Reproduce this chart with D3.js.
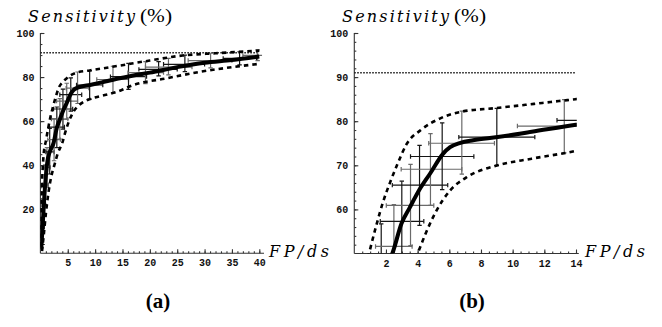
<!DOCTYPE html>
<html lang="en">
<head>
<meta charset="UTF-8">
<title>Sensitivity vs FP/ds</title>
<script src="https://d3js.org/d3.v7.min.js"></script>
<style>
  body { margin: 0; background: #fff; }
  .tick text { font-family: "Liberation Mono", "DejaVu Sans Mono", monospace; font-weight: bold; font-size: 10px; fill: #111; }
  .axis line, .axisline { stroke: #333; stroke-width: 1.1; }
  .main { fill: none; stroke: #000; stroke-width: 4; stroke-linejoin: round; }
  .band { fill: none; stroke: #000; stroke-width: 2.6; stroke-dasharray: 4.5 4; }
  .ref { stroke: #000; stroke-width: 1.5; stroke-dasharray: 1.4 1.6; }
  .bar { stroke-width: 1.2; }
  .math { font-family: "DejaVu Serif", serif; font-style: italic; font-size: 16px; }
  .paren { font-family: "Liberation Serif", serif; font-size: 19px; }
  .tag { font-family: "Liberation Serif", serif; font-weight: bold; font-size: 21px; }
</style>
</head>
<body>
<script>
    const width = 662;
    const height = 327;

    // mean curve, FP/ds vs sensitivity
    const mainCurve = [
        [0.15, 2], [0.4, 12], [0.7, 25], [1.0, 35], [1.3, 42], [1.7, 46],
        [2.4, 50], [2.98, 56.8], [3.5, 60.4], [4.1, 64.4], [4.8, 68.2],
        [5.6, 72.6], [6.05, 74.1], [6.7, 75.1], [7.5, 75.7], [9.06, 76.4],
        [11.2, 77.6], [14, 79.2], [17, 80.7], [20, 82], [25, 84.5],
        [30, 86.5], [35, 87.7], [40, 89.3]
    ];

    // dashed envelope
    const upperBand = [
        [0.02, 3], [0.15, 20], [0.35, 35], [0.6, 45], [1.0, 51], [1.4, 56.5],
        [1.8, 61.5], [2.3, 66.5], [2.75, 70.5], [3.3, 74.8], [4.2, 78],
        [5.4, 80.6], [6.7, 82.1], [9, 83], [14, 85], [20, 87.5], [26, 89.8],
        [32, 90.8], [40, 92]
    ];
    const lowerBand = [
        [0.3, 1], [0.6, 8], [1.0, 18], [1.5, 28], [2.0, 35], [2.55, 40],
        [3.2, 45.5], [4.05, 50.5], [4.5, 54.5], [5.2, 59.8], [6.05, 64.3],
        [7.1, 67.3], [9.06, 70], [11.2, 71.5], [14, 73.3], [17, 76.4],
        [23, 79.4], [29, 82.3], [35, 84.5], [40, 86]
    ];

    // error crosses: x, y, xLo, xHi, yLo, yHi
    const crosses = [
        [0.4, 12, 0.1, 0.7, 4, 20],
        [0.6, 22, 0.25, 1.0, 13, 31],
        [0.9, 31, 0.45, 1.4, 22, 40],
        [1.2, 39, 0.7, 1.8, 30, 48],
        [1.7, 46, 1.0, 2.5, 36, 56.7],
        [2.5, 51.6, 1.34, 3.65, 42, 61.1],
        [3.0, 57.3, 1.64, 4.39, 48, 66.4],
        [3.55, 60.9, 2.02, 5.02, 51.8, 70.2],
        [4.12, 65.5, 2.4, 5.9, 56.4, 74.5],
        [4.81, 69.1, 2.96, 6.79, 60.9, 77.2],
        [5.55, 72.0, 3.55, 7.55, 64.5, 79.6],
        [6.79, 75.0, 4.7, 8.85, 68.0, 82.3],
        [9.0, 76.4, 6.6, 11.4, 70.0, 82.9],
        [13.26, 78.9, 10.3, 16.1, 72.8, 84.9],
        [16.1, 80.2, 12.8, 19.4, 74.4, 86.2],
        [19.2, 82, 16, 22.5, 77, 87],
        [21.6, 83.5, 18, 25, 80.5, 87],
        [23.4, 84.5, 19.2, 27.7, 81, 88.5],
        [26.4, 85.8, 22.5, 30, 82.5, 90],
        [31.1, 87.5, 27, 35, 84.2, 90.8],
        [36.4, 88.5, 33.4, 39.5, 85.5, 91.5],
        [39.7, 89.8, 37, 41, 87.5, 92.3]
    ];

    const referenceLevel = 91;

    const xTicksA = [5, 10, 15, 20, 25, 30, 35, 40];
    const yTicksA = [20, 40, 60, 80, 100];
    const xTicksB = [2, 4, 6, 8, 10, 12, 14];
    const yTicksB = [60, 70, 80, 90, 100];

    const panels = [
        { id: "a", xDomain: [0, 40], yDomain: [0, 100], xRange: [40.4, 259.3], yRange: [253.3, 33],
          xTicks: xTicksA, yTicks: yTicksA, xMinor: 1, yMinor: 5, xEnd: 40.5,
          titleX: 28, fpX: 269, tagX: 158, tag: "(a)" },
        { id: "b", xDomain: [0, 14], yDomain: [50, 100], xRange: [354.3, 576], yRange: [253.5, 33],
          xTicks: xTicksB, yTicks: yTicksB, xMinor: 0.5, yMinor: 2, xEnd: 14.05,
          titleX: 342, fpX: 585, tagX: 472, tag: "(b)" }
    ];

    const svg = d3.select("body").append("svg")
        .attr("width", width).attr("height", height);

    panels.forEach(drawPanel);

    function drawPanel(p) {
        const x = d3.scaleLinear().domain(p.xDomain).range(p.xRange);
        const y = d3.scaleLinear().domain(p.yDomain).range(p.yRange);
        const g = svg.append("g");

        const clipId = "clip-" + p.id;
        svg.append("clipPath").attr("id", clipId).append("rect")
            .attr("x", p.xRange[0])
            .attr("y", p.yRange[1] - 2)
            .attr("width", x(p.xEnd) - p.xRange[0])
            .attr("height", p.yRange[0] - p.yRange[1] + 2);

        // minor ticks
        const minorX = d3.range(p.xDomain[0] + p.xMinor, p.xDomain[1] + 1e-6, p.xMinor);
        const minorY = d3.range(p.yDomain[0] + p.yMinor, p.yDomain[1] + 1e-6, p.yMinor);
        g.append("g").attr("class", "axis")
            .attr("transform", `translate(0,${p.yRange[0]})`)
            .call(d3.axisBottom(x).tickValues(minorX).tickSize(-2).tickFormat(""))
            .call(s => s.select(".domain").remove());
        g.append("g").attr("class", "axis")
            .attr("transform", `translate(${p.xRange[0]},0)`)
            .call(d3.axisLeft(y).tickValues(minorY).tickSize(-2).tickFormat(""))
            .call(s => s.select(".domain").remove());

        // major ticks with labels
        g.append("g").attr("class", "axis")
            .attr("transform", `translate(0,${p.yRange[0]})`)
            .call(d3.axisBottom(x).tickValues(p.xTicks).tickSize(-4).tickPadding(6))
            .call(s => s.select(".domain").remove());
        g.append("g").attr("class", "axis")
            .attr("transform", `translate(${p.xRange[0]},0)`)
            .call(d3.axisLeft(y).tickValues(p.yTicks).tickSize(-4).tickPadding(6))
            .call(s => s.select(".domain").remove());

        // axis lines
        g.append("line").attr("class", "axisline")
            .attr("x1", x(p.xDomain[0])).attr("x2", x(p.xEnd) + 2)
            .attr("y1", y(p.yDomain[0])).attr("y2", y(p.yDomain[0]));
        g.append("line").attr("class", "axisline")
            .attr("x1", x(p.xDomain[0])).attr("x2", x(p.xDomain[0]))
            .attr("y1", y(p.yDomain[0])).attr("y2", y(p.yDomain[1]));

        const plot = g.append("g").attr("clip-path", `url(#${clipId})`);

        // reference level
        plot.append("line").attr("class", "ref")
            .attr("x1", x(p.xDomain[0])).attr("x2", x(p.xDomain[1]))
            .attr("y1", y(referenceLevel)).attr("y2", y(referenceLevel));

        // error crosses
        const cap = 2.2;
        const bars = plot.selectAll("g.cross").data(crosses).enter()
            .append("g").attr("class", "cross")
            .attr("stroke", (d, i) => i % 2 ? "#6a6a6a" : "#151515");
        bars.append("line").attr("class", "bar")
            .attr("x1", d => x(d[2])).attr("x2", d => x(d[3]))
            .attr("y1", d => y(d[1])).attr("y2", d => y(d[1]));
        bars.append("line").attr("class", "bar")
            .attr("x1", d => x(d[2])).attr("x2", d => x(d[2]))
            .attr("y1", d => y(d[1]) - cap).attr("y2", d => y(d[1]) + cap);
        bars.append("line").attr("class", "bar")
            .attr("x1", d => x(d[3])).attr("x2", d => x(d[3]))
            .attr("y1", d => y(d[1]) - cap).attr("y2", d => y(d[1]) + cap);
        bars.append("line").attr("class", "bar")
            .attr("x1", d => x(d[0])).attr("x2", d => x(d[0]))
            .attr("y1", d => y(d[4])).attr("y2", d => y(d[5]));
        bars.append("line").attr("class", "bar")
            .attr("x1", d => x(d[0]) - cap).attr("x2", d => x(d[0]) + cap)
            .attr("y1", d => y(d[4])).attr("y2", d => y(d[4]));
        bars.append("line").attr("class", "bar")
            .attr("x1", d => x(d[0]) - cap).attr("x2", d => x(d[0]) + cap)
            .attr("y1", d => y(d[5])).attr("y2", d => y(d[5]));

        const line = d3.line()
            .x(d => x(d[0])).y(d => y(d[1]))
            .curve(d3.curveMonotoneX);

        plot.append("path").attr("class", "band").attr("d", line(upperBand));
        plot.append("path").attr("class", "band").attr("d", line(lowerBand));
        plot.append("path").attr("class", "main").attr("d", line(mainCurve));

        // titles
        g.append("text").attr("class", "math")
            .attr("x", p.titleX).attr("y", 22)
            .attr("textLength", 107).attr("lengthAdjust", "spacing")
            .text("Sensitivity");
        g.append("text").attr("class", "paren")
            .attr("x", p.titleX + 112).attr("y", 22)
            .attr("textLength", 32).attr("lengthAdjust", "spacingAndGlyphs")
            .text("(%)");
        g.append("text").attr("class", "math")
            .attr("x", p.fpX).attr("y", 257)
            .attr("textLength", 60).attr("lengthAdjust", "spacing")
            .text("FP/ds");
        g.append("text").attr("class", "tag")
            .attr("x", p.tagX).attr("y", 308)
            .attr("text-anchor", "middle")
            .text(p.tag);
    }
</script>
</body>
</html>
